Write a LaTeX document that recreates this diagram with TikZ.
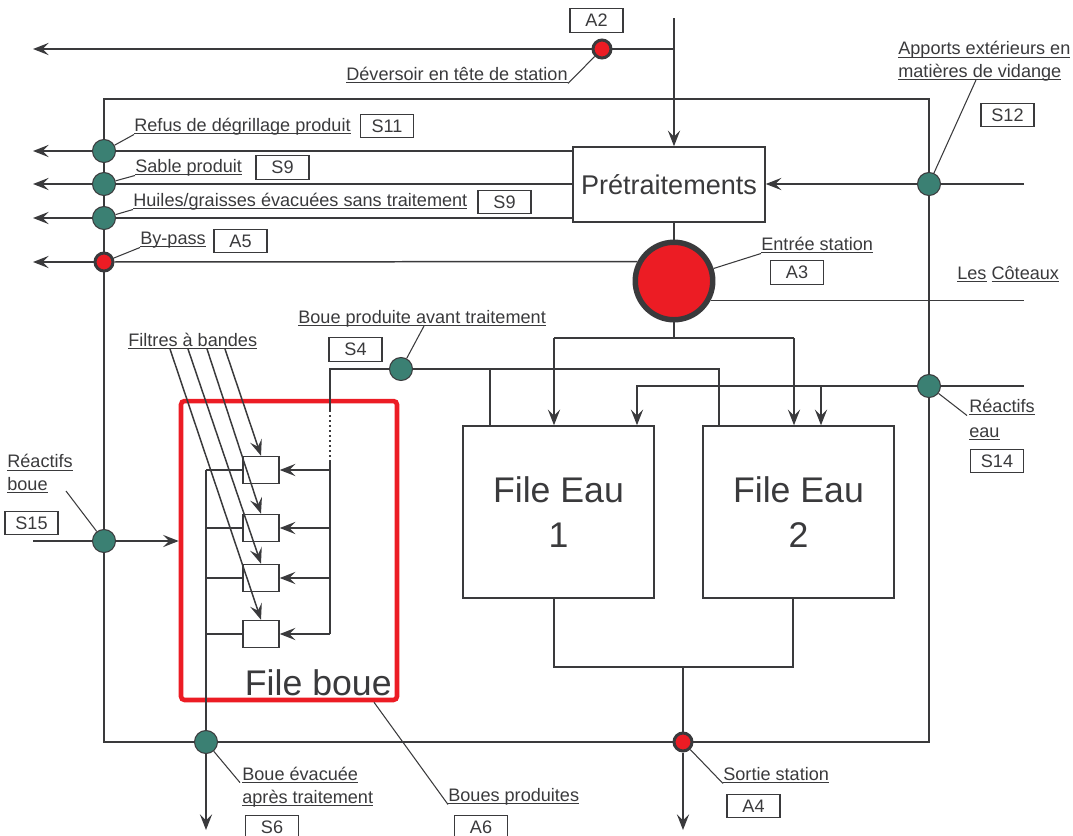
\documentclass[tikz,border=0pt]{standalone}
\usepackage{fontspec}
\setmainfont{Liberation Sans}
\usetikzlibrary{arrows.meta,calc}
\definecolor{ink}{HTML}{3A3A3C}
\definecolor{mesure}{HTML}{3B8073}
\definecolor{alerte}{HTML}{EC1C24}
\newcommand{\lblsize}{\fontsize{10.3}{13}\selectfont}
\newcommand{\ulbl}[1]{\setbox0\hbox{#1}\rlap{\rule[-1.7pt]{\wd0}{0.6pt}}\box0}

\begin{document}
\begin{tikzpicture}[x=0.02cm, y=-0.02cm,
  pipe/.style={draw=ink, line width=0.85pt},
  feed/.style={pipe, -{Stealth[length=9pt, width=7pt, inset=3.5pt]}},
  leader/.style={draw=ink, line width=0.6pt},
  lbl/.style={font=\lblsize, text=ink, inner sep=0pt, align=left, anchor=base west},
  tag/.style={draw=ink, line width=0.8pt, minimum width=1.06cm, minimum height=0.47cm, inner sep=0pt, font=\lblsize, text=ink},
  sonde/.style={circle, draw=ink, line width=0.6pt, fill=mesure, minimum size=0.46cm, inner sep=0pt},
  alarme/.style={circle, draw=ink, line width=1.7pt, fill=alerte, minimum size=0.36cm, inner sep=0pt},
  ouvrage/.style={draw=ink, line width=0.85pt, inner sep=0pt, text=ink, align=center},
  filtre/.style={draw=ink, line width=0.85pt, minimum width=0.72cm, minimum height=0.54cm, inner sep=0pt},
]
\clip (0,0) rectangle (1073,836);

% limite de la station
\draw[pipe] (104,99) rectangle (929,742);

% ouvrages
\node[ouvrage, minimum width=3.84cm, minimum height=1.5cm, font=\fontsize{15.4}{18}\selectfont] (pre) at (669,184.5) {Prétraitements};
\node[circle, draw=ink, line width=3.1pt, fill=alerte, minimum size=1.55cm, inner sep=0pt] (a3) at (674,281) {};
\node[ouvrage, minimum width=3.82cm, minimum height=3.44cm, font=\fontsize{20.3}{26}\selectfont] (fe1) at (558.5,512) {File Eau\\1};
\node[ouvrage, minimum width=3.82cm, minimum height=3.44cm, font=\fontsize{20.3}{26}\selectfont] (fe2) at (798.5,512) {File Eau\\2};
\node[draw=alerte, line width=2.6pt, rounded corners=2pt, minimum width=4.32cm, minimum height=5.98cm] (fileboue) at (289,550.5) {};
\node[anchor=base east, text=ink, inner sep=0pt, font=\fontsize{20.3}{24}\selectfont] (lfileboue) at (392,695) {File boue};

% points de mesure
\node[alarme] (a2pt) at (602,49) {};
\node[sonde] (s11pt) at (104,151) {};
\node[sonde] (s9pt) at (104,184) {};
\node[sonde] (huipt) at (104,218) {};
\node[alarme] (a5pt) at (104,262) {};
\node[sonde] (s15pt) at (104,541) {};
\node[sonde] (s6pt) at (206,742) {};
\node[alarme] (a4pt) at (683,742) {};
\node[sonde] (s12pt) at (929,184) {};
\node[sonde] (s14pt) at (929,386) {};
\node[sonde] (s4pt) at (401,369) {};

% filtres a bandes
\foreach \i/\y in {1/470,2/528,3/578,4/634}
  \node[filtre] (f\i) at (261,\y) {};

% codes
\node[tag] (tA2) at (596.5,20.5) {A2};
\node[tag] (tS11) at (387,126) {S11};
\node[tag] (tS9a) at (282.5,167.5) {S9};
\node[tag] (tS9b) at (504.5,202) {S9};
\node[tag] (tA5) at (240.5,241) {A5};
\node[tag] (tA3) at (797,272.5) {A3};
\node[tag] (tS12) at (1007.5,115) {S12};
\node[tag] (tS14) at (997,461) {S14};
\node[tag] (tS4) at (355.5,349.5) {S4};
\node[tag] (tS15) at (31.5,523) {S15};
\node[tag] (tS6) at (272,827) {S6};
\node[tag] (tA6) at (481,827) {A6};
\node[tag] (tA4) at (753.5,806) {A4};

% libelles (base = ligne du bas)
\node[lbl] (ldev) at (346,80.5) {\ulbl{Déversoir en tête de station}};
\node[lbl] (lrefus) at (134,131.5) {\ulbl{Refus de dégrillage produit}};
\node[lbl] (lsable) at (135,172.5) {\ulbl{Sable produit}};
\node[lbl] (lhuiles) at (133,206.5) {\ulbl{Huiles/graisses évacuées sans traitement}};
\node[lbl] (lbypass) at (140,244.5) {\ulbl{By-pass}};
\node[lbl] (lentree) at (761,250.5) {\ulbl{Entrée station}};
\node[lbl] (lapports) at (898,77.5) {\ulbl{Apports extérieurs en}\\\ulbl{matières de vidange}};
\node[lbl] (lcot) at (957,279.5) {\ulbl{Les}\hspace*{0.28em}\ulbl{Côteaux}};
\node[lbl] (lreaceau) at (969,437) {\ulbl{Réactifs}\\[1pt]\ulbl{eau}};
\node[lbl] (lboueav) at (298,323.5) {\ulbl{Boue produite avant traitement}};
\node[lbl] (lfiltres) at (128,346.5) {\ulbl{Filtres à bandes}};
\node[lbl] (lreacboue) at (7,490.5) {\ulbl{Réactifs}\\\ulbl{boue}};
\node[lbl] (levac) at (242,803) {\ulbl{Boue évacuée}\\\ulbl{après traitement}};
\node[lbl] (lboues) at (448,801.5) {\ulbl{Boues produites}};
\node[lbl] (lsortie) at (723,780.5) {\ulbl{Sortie station}};

% reperes
\coordinate (gauche) at (33,0);
\coordinate (droite) at (1024,0);
\coordinate (bas) at (0,830);
\coordinate (arrivee) at (674,18);
\coordinate (split) at (674,338);
\coordinate (splitL) at (554,338);
\coordinate (splitR) at (794,338);
\coordinate (bpL) at (330,369);
\coordinate (bp1) at (490,369);
\coordinate (bpR) at (719,369);
\coordinate (dotA) at (330,410);
\coordinate (dotB) at (330,460);
\coordinate (reL) at (637,386);
\coordinate (reR) at (821,386);
\coordinate (joinL) at (554,667);
\coordinate (join) at (683,667);
\coordinate (joinR) at (793,667);
\coordinate (evac) at (206,470);

% arrivee et deversoir
\draw[feed] (arrivee) -- (arrivee |- pre.north);
\draw[pipe] (arrivee |- a2pt) -- (a2pt);
\draw[feed] (a2pt) -- (a2pt -| gauche);

% sous-produits des pretraitements
\draw[pipe] (pre.west |- s11pt) -- (s11pt);
\draw[feed] (s11pt) -- (s11pt -| gauche);
\draw[pipe] (pre.west |- s9pt) -- (s9pt);
\draw[feed] (s9pt) -- (s9pt -| gauche);
\draw[pipe] (pre.west |- huipt) -- (huipt);
\draw[feed] (huipt) -- (huipt -| gauche);

% apports exterieurs
\draw[pipe] (s12pt -| droite) -- (s12pt);
\draw[feed] (s12pt) -- (pre.east |- s12pt);

% entree station et by-pass
\draw[pipe] (pre.south -| arrivee) -- (a3);
\draw[pipe] (a3.152) -- (a5pt);
\draw[feed] (a5pt) -- (a5pt -| gauche);
\draw[pipe] (a3.-28) -- (a3.-28 -| droite);

% repartition vers les files eau
\draw[pipe] (a3) -- (split);
\draw[pipe] (splitL) -- (splitR);
\draw[feed] (splitL) -- (splitL |- fe1.north);
\draw[feed] (splitR) -- (splitR |- fe2.north);

% boue produite avant traitement
\draw[pipe] (s4pt) -- (bpR) -- (bpR |- fe2.north);
\draw[pipe] (bp1) -- (bp1 |- fe1.north);
\draw[pipe] (s4pt) -- (bpL) -- (dotA);
\draw[pipe, dotted] (dotA) -- (dotB);
\draw[pipe] (dotB) -- (bpL |- f4);
\foreach \i in {1,...,4}
  \draw[feed] (bpL |- f\i) -- (f\i.east);

% reactifs eau
\draw[pipe] (s14pt -| droite) -- (s14pt);
\draw[feed] (s14pt) -- (reL) -- (reL |- fe1.north);
\draw[feed] (reR) -- (reR |- fe2.north);

% sortie station
\draw[pipe] (joinL |- fe1.south) -- (joinL) -- (joinR) -- (joinR |- fe2.south);
\draw[pipe] (join) -- (a4pt);
\draw[feed] (a4pt) -- (a4pt |- bas);

% file boue
\draw[pipe] (s15pt -| gauche) -- (s15pt);
\draw[feed] (s15pt) -- (fileboue.west |- s15pt);
\foreach \i in {1,...,4}
  \draw[pipe] (evac |- f\i) -- (f\i.west);
\draw[pipe] (evac) -- (s6pt);
\draw[feed] (s6pt) -- (s6pt |- bas);
\foreach \i/\dx in {1/97,2/79,3/60,4/42}
  \draw[feed] ($(lfiltres.base west)+(\dx,2.5)$) -- (f\i.north);

% renvois des libelles
\draw[leader] (a2pt) -- ([yshift=-1.7pt]ldev.base east);
\draw[leader] (s11pt) -- ([yshift=-1.7pt]lrefus.base west);
\draw[leader] (s9pt) -- ([yshift=-1.7pt]lsable.base west);
\draw[leader] (huipt) -- ([yshift=-1.7pt]lhuiles.base west);
\draw[leader] (a5pt) -- ([yshift=-1.7pt]lbypass.base west);
\draw[leader] (a3) -- ([yshift=-1.7pt]lentree.base west);
\draw[leader] (s12pt) -- ($(lapports.base west)+(78,2.5)$);
\draw[leader] (s14pt) -- ($(lreaceau.base west)+(-2,-21.5)$);
\draw[leader] (s4pt) -- ($(lboueav.base west)+(126,2.5)$);
\draw[leader] (s15pt) -- ($(lreacboue.base west)+(59,0.5)$);
\draw[leader] (s6pt) -- ($(levac.base west)+(-2,-20.4)$);
\draw[leader] ($(fileboue.south)+(85,0)$) -- ([yshift=-1.7pt]lboues.base west);
\draw[leader] (a4pt) -- ([yshift=-1.7pt]lsortie.base west);
\end{tikzpicture}
\end{document}
